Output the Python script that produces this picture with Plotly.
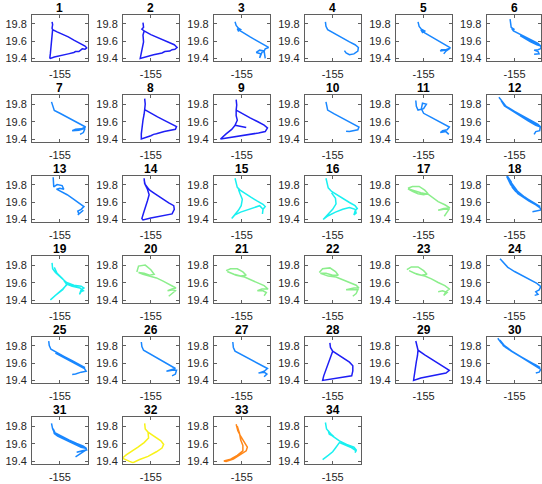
import plotly.graph_objects as go

# Flight tracks (lon, lat) east of Hilo, one per sortie
track_01 = [(-155.084, 19.825), (-155.078, 19.793), (-155.084, 19.751), (-155.078, 19.735), (-155.03, 19.709),
            (-154.97, 19.682), (-154.91, 19.650), (-154.85, 19.613), (-154.796, 19.581), (-154.76, 19.560),
            (-154.73, 19.544), (-154.712, 19.523), (-154.73, 19.507), (-154.76, 19.512), (-154.778, 19.497),
            (-154.796, 19.481), (-154.832, 19.481), (-154.85, 19.470), (-154.91, 19.454), (-154.988, 19.438),
            (-155.06, 19.417), (-155.102, 19.401), (-155.108, 19.406), (-155.102, 19.459), (-155.096, 19.539),
            (-155.09, 19.618), (-155.084, 19.687), (-155.078, 19.735)]
track_02 = [(-155.084, 19.815), (-155.078, 19.762), (-155.096, 19.740), (-155.072, 19.719), (-155.0, 19.677),
            (-154.91, 19.634), (-154.82, 19.592), (-154.748, 19.560), (-154.718, 19.528), (-154.742, 19.507),
            (-154.772, 19.502), (-154.796, 19.486), (-154.85, 19.481), (-154.88, 19.465), (-154.97, 19.444),
            (-155.06, 19.417), (-155.114, 19.401), (-155.108, 19.433), (-155.096, 19.512), (-155.078, 19.592),
            (-155.084, 19.671), (-155.072, 19.719)]
track_03 = [(-155.072, 19.825), (-155.06, 19.783), (-155.036, 19.751), (-155.012, 19.735), (-155.036, 19.719),
            (-155.048, 19.746), (-155.024, 19.725), (-154.97, 19.687), (-154.91, 19.650), (-154.85, 19.613),
            (-154.79, 19.576), (-154.742, 19.550), (-154.712, 19.528), (-154.748, 19.512), (-154.76, 19.486),
            (-154.808, 19.497), (-154.844, 19.470), (-154.796, 19.454), (-154.808, 19.406), (-154.784, 19.470),
            (-154.76, 19.486), (-154.748, 19.401)]
track_04 = [(-155.078, 19.825), (-155.072, 19.772), (-155.054, 19.735), (-155.012, 19.709), (-154.952, 19.666),
            (-154.892, 19.629), (-154.82, 19.592), (-154.76, 19.560), (-154.724, 19.528), (-154.73, 19.486),
            (-154.772, 19.454), (-154.82, 19.444), (-154.856, 19.465), (-154.874, 19.491)]
track_05 = [(-155.06, 19.825), (-155.048, 19.772), (-155.024, 19.740), (-154.988, 19.719), (-155.012, 19.703),
            (-155.03, 19.735), (-154.988, 19.698), (-154.928, 19.661), (-154.868, 19.624), (-154.808, 19.587),
            (-154.748, 19.555), (-154.712, 19.523), (-154.76, 19.502), (-154.808, 19.502), (-154.82, 19.486),
            (-154.76, 19.497), (-154.718, 19.518), (-154.76, 19.486), (-154.784, 19.454)]
track_06 = [(-155.048, 19.857), (-155.042, 19.804), (-155.036, 19.762), (-155.0, 19.735), (-155.03, 19.746),
            (-155.012, 19.719), (-154.952, 19.687), (-154.88, 19.645), (-154.808, 19.608), (-154.748, 19.576),
            (-154.718, 19.544), (-154.76, 19.560), (-154.832, 19.597), (-154.904, 19.640), (-154.94, 19.666),
            (-154.868, 19.629), (-154.796, 19.592), (-154.724, 19.550), (-154.712, 19.518), (-154.748, 19.502),
            (-154.79, 19.497), (-154.748, 19.481), (-154.736, 19.454), (-154.79, 19.449)]
track_07 = [(-155.09, 19.830), (-155.078, 19.778), (-155.06, 19.730), (-155.0, 19.698), (-154.928, 19.656),
            (-154.85, 19.613), (-154.772, 19.571), (-154.724, 19.539), (-154.772, 19.518), (-154.832, 19.512),
            (-154.868, 19.497), (-154.796, 19.502), (-154.73, 19.523), (-154.748, 19.475), (-154.784, 19.454)]
track_08 = [(-155.066, 19.868), (-155.06, 19.804), (-155.066, 19.740), (-155.0, 19.698), (-154.928, 19.656),
            (-154.85, 19.613), (-154.772, 19.576), (-154.724, 19.544), (-154.736, 19.512), (-154.784, 19.502),
            (-154.856, 19.486), (-154.94, 19.460), (-154.97, 19.454), (-155.0, 19.438), (-155.06, 19.417),
            (-155.102, 19.401), (-155.102, 19.460), (-155.096, 19.539), (-155.084, 19.618), (-155.072, 19.687),
            (-155.066, 19.740)]
track_09 = [(-155.06, 19.857), (-155.054, 19.793), (-155.06, 19.735), (-154.988, 19.687), (-154.91, 19.645),
            (-154.832, 19.603), (-154.76, 19.560), (-154.724, 19.528), (-154.748, 19.486), (-154.82, 19.470),
            (-154.91, 19.454), (-155.0, 19.444), (-155.09, 19.428), (-155.18, 19.412), (-155.228, 19.401),
            (-155.168, 19.460), (-155.108, 19.512), (-155.072, 19.560), (-155.012, 19.544), (-154.952, 19.534),
            (-155.012, 19.544), (-155.072, 19.560), (-155.048, 19.618), (-155.06, 19.671), (-155.06, 19.735)]
track_10 = [(-155.072, 19.830), (-155.066, 19.778), (-155.054, 19.735), (-154.988, 19.693), (-154.91, 19.650),
            (-154.832, 19.608), (-154.76, 19.571), (-154.718, 19.539), (-154.73, 19.507), (-154.772, 19.497),
            (-154.82, 19.486), (-154.856, 19.491)]
track_11 = [(-155.084, 19.846), (-155.078, 19.778), (-155.06, 19.735), (-155.0, 19.751), (-154.97, 19.804),
            (-155.012, 19.815), (-155.024, 19.751), (-155.0, 19.698), (-154.928, 19.656), (-154.85, 19.613),
            (-154.772, 19.571), (-154.724, 19.539), (-154.748, 19.507), (-154.796, 19.497), (-154.82, 19.475),
            (-154.76, 19.486), (-154.73, 19.454)]
track_12 = [(-155.168, 19.884), (-155.132, 19.830), (-155.09, 19.778), (-155.0, 19.719), (-154.91, 19.666),
            (-154.82, 19.613), (-154.748, 19.571), (-154.718, 19.539), (-154.772, 19.560), (-154.85, 19.608),
            (-154.94, 19.666), (-155.03, 19.730), (-155.108, 19.783), (-155.144, 19.846), (-155.12, 19.804),
            (-155.06, 19.751), (-154.97, 19.693), (-154.88, 19.634), (-154.79, 19.581), (-154.724, 19.539),
            (-154.73, 19.497), (-154.772, 19.486), (-154.79, 19.454)]
track_13 = [(-155.072, 19.889), (-155.072, 19.830), (-155.066, 19.778), (-155.03, 19.804), (-154.976, 19.793),
            (-154.958, 19.751), (-155.0, 19.762), (-155.036, 19.751), (-154.988, 19.725), (-154.922, 19.687),
            (-154.85, 19.634), (-154.79, 19.592), (-154.742, 19.550), (-154.772, 19.518), (-154.808, 19.497),
            (-154.796, 19.465), (-154.772, 19.486), (-154.748, 19.507), (-154.784, 19.475), (-154.808, 19.454)]
track_14 = [(-155.072, 19.878), (-155.066, 19.815), (-155.036, 19.772), (-155.012, 19.740), (-154.97, 19.709),
            (-154.928, 19.677), (-154.868, 19.634), (-154.808, 19.592), (-154.754, 19.560), (-154.748, 19.518),
            (-154.772, 19.465), (-154.832, 19.454), (-154.904, 19.438), (-155.0, 19.417), (-155.084, 19.396),
            (-155.096, 19.412), (-155.078, 19.475), (-155.06, 19.550), (-155.036, 19.618), (-155.018, 19.687),
            (-155.036, 19.751), (-155.06, 19.804), (-155.072, 19.857)]
track_15 = [(-155.072, 19.878), (-155.06, 19.815), (-155.048, 19.772), (-155.018, 19.740), (-154.964, 19.698),
            (-154.898, 19.656), (-154.832, 19.613), (-154.772, 19.576), (-154.748, 19.550), (-154.772, 19.518),
            (-154.778, 19.465), (-154.772, 19.518), (-154.808, 19.560), (-154.868, 19.539), (-154.94, 19.512),
            (-155.012, 19.486), (-155.072, 19.454), (-155.108, 19.412), (-155.072, 19.465), (-155.036, 19.507),
            (-155.006, 19.560), (-154.994, 19.634), (-155.018, 19.698), (-155.036, 19.751)]
track_16 = [(-155.072, 19.878), (-155.06, 19.815), (-155.048, 19.767), (-155.012, 19.725), (-154.952, 19.682),
            (-154.88, 19.634), (-154.82, 19.597), (-154.76, 19.560), (-154.736, 19.528), (-154.76, 19.497),
            (-154.772, 19.454), (-154.748, 19.475), (-154.76, 19.518), (-154.82, 19.539), (-154.892, 19.518),
            (-154.97, 19.486), (-155.048, 19.444), (-155.102, 19.401), (-155.06, 19.454), (-155.0, 19.518),
            (-154.964, 19.581), (-154.97, 19.645), (-155.012, 19.709)]
track_17 = [(-155.168, 19.762), (-155.12, 19.783), (-155.048, 19.783), (-154.988, 19.740), (-154.952, 19.698),
            (-155.0, 19.687), (-155.06, 19.698), (-155.12, 19.725), (-155.168, 19.756), (-155.108, 19.735),
            (-155.03, 19.709), (-154.952, 19.693), (-154.904, 19.656), (-154.844, 19.608), (-154.772, 19.571),
            (-154.718, 19.534), (-154.784, 19.528), (-154.844, 19.507), (-154.784, 19.518), (-154.724, 19.523),
            (-154.748, 19.486), (-154.778, 19.438)]
track_18 = [(-155.108, 19.952), (-155.072, 19.889), (-155.036, 19.836), (-155.024, 19.772), (-154.988, 19.725),
            (-154.928, 19.682), (-154.856, 19.634), (-154.784, 19.587), (-154.724, 19.550), (-154.772, 19.571),
            (-154.844, 19.613), (-154.916, 19.666), (-154.964, 19.698), (-155.0, 19.751), (-155.042, 19.804),
            (-155.084, 19.899), (-155.048, 19.846), (-155.012, 19.793), (-154.97, 19.730), (-154.892, 19.661),
            (-154.808, 19.603), (-154.73, 19.539), (-154.712, 19.512), (-154.76, 19.497), (-154.808, 19.491)]
track_19 = [(-155.084, 19.830), (-155.078, 19.762), (-155.048, 19.719), (-154.988, 19.656), (-154.928, 19.603),
            (-154.85, 19.571), (-154.772, 19.560), (-154.742, 19.539), (-154.772, 19.518), (-154.79, 19.465),
            (-154.772, 19.497), (-154.748, 19.507), (-154.784, 19.539), (-154.868, 19.560), (-154.922, 19.581),
            (-154.97, 19.528), (-155.03, 19.465), (-155.102, 19.401), (-155.048, 19.454), (-154.97, 19.518),
            (-154.928, 19.581), (-154.97, 19.645), (-155.03, 19.709), (-155.06, 19.778)]
track_20 = [(-155.15, 19.725), (-155.132, 19.793), (-155.06, 19.804), (-155.0, 19.751), (-154.964, 19.698),
            (-155.012, 19.687), (-155.072, 19.709), (-155.132, 19.719), (-155.084, 19.698), (-155.0, 19.677),
            (-154.94, 19.656), (-154.868, 19.618), (-154.79, 19.576), (-154.73, 19.539), (-154.772, 19.528),
            (-154.82, 19.507), (-154.76, 19.518), (-154.736, 19.507), (-154.772, 19.475), (-154.808, 19.444)]
track_21 = [(-155.168, 19.740), (-155.12, 19.762), (-155.048, 19.762), (-154.988, 19.725), (-154.952, 19.687),
            (-155.012, 19.677), (-155.084, 19.698), (-155.156, 19.730), (-155.06, 19.687), (-154.97, 19.666),
            (-154.904, 19.634), (-154.832, 19.603), (-154.76, 19.566), (-154.718, 19.528), (-154.784, 19.528),
            (-154.832, 19.507), (-154.772, 19.507), (-154.736, 19.486), (-154.76, 19.449)]
track_22 = [(-155.144, 19.719), (-155.108, 19.762), (-155.03, 19.772), (-154.97, 19.730), (-154.94, 19.687),
            (-155.0, 19.687), (-155.072, 19.709), (-155.132, 19.709), (-155.048, 19.677), (-154.964, 19.666),
            (-154.892, 19.634), (-154.82, 19.603), (-154.748, 19.571), (-154.718, 19.539), (-154.772, 19.539),
            (-154.856, 19.518), (-154.784, 19.518), (-154.73, 19.518), (-154.748, 19.475), (-154.784, 19.444)]
track_23 = [(-155.18, 19.751), (-155.132, 19.783), (-155.06, 19.783), (-155.0, 19.740), (-154.964, 19.698),
            (-155.024, 19.687), (-155.096, 19.709), (-155.156, 19.740), (-155.072, 19.698), (-154.988, 19.677),
            (-154.916, 19.645), (-154.844, 19.603), (-154.772, 19.566), (-154.724, 19.528), (-154.76, 19.497),
            (-154.784, 19.454), (-154.748, 19.486), (-154.796, 19.507), (-154.844, 19.497)]
track_24 = [(-155.156, 19.878), (-155.12, 19.830), (-155.072, 19.778), (-155.0, 19.730), (-154.916, 19.682),
            (-154.832, 19.634), (-154.76, 19.592), (-154.718, 19.555), (-154.736, 19.518), (-154.772, 19.497),
            (-154.748, 19.465), (-154.784, 19.454)]
track_25 = [(-155.12, 19.857), (-155.114, 19.804), (-155.096, 19.762), (-155.03, 19.719), (-154.952, 19.677),
            (-154.868, 19.629), (-154.79, 19.587), (-154.73, 19.550), (-154.808, 19.581), (-154.892, 19.629),
            (-154.97, 19.677), (-155.048, 19.719), (-155.0, 19.687), (-154.91, 19.634), (-154.82, 19.587),
            (-154.736, 19.539), (-154.718, 19.507), (-154.772, 19.497), (-154.832, 19.475), (-154.868, 19.470)]
track_26 = [(-155.102, 19.846), (-155.096, 19.793), (-155.078, 19.751), (-155.012, 19.709), (-154.94, 19.666),
            (-154.868, 19.624), (-154.796, 19.581), (-154.736, 19.539), (-154.772, 19.528), (-154.832, 19.507),
            (-154.772, 19.518), (-154.724, 19.518), (-154.736, 19.475), (-154.772, 19.454)]
track_27 = [(-155.096, 19.846), (-155.09, 19.783), (-155.072, 19.740), (-155.0, 19.698), (-154.928, 19.656),
            (-154.85, 19.613), (-154.778, 19.571), (-154.724, 19.539), (-154.76, 19.507), (-154.82, 19.486),
            (-154.76, 19.497), (-154.73, 19.475), (-154.76, 19.444)]
track_28 = [(-155.03, 19.836), (-155.024, 19.783), (-155.0, 19.740), (-154.94, 19.698), (-154.88, 19.656),
            (-154.82, 19.613), (-154.784, 19.571), (-154.784, 19.512), (-154.796, 19.454), (-154.856, 19.444),
            (-154.94, 19.433), (-155.03, 19.417), (-155.108, 19.401), (-155.096, 19.454), (-155.072, 19.528),
            (-155.048, 19.603), (-155.024, 19.671), (-155.0, 19.740)]
track_29 = [(-155.084, 19.857), (-155.072, 19.793), (-155.06, 19.751), (-154.988, 19.698), (-154.91, 19.645),
            (-154.832, 19.592), (-154.76, 19.550), (-154.724, 19.518), (-154.76, 19.486), (-154.844, 19.470),
            (-154.94, 19.449), (-155.03, 19.428), (-155.108, 19.401), (-155.102, 19.460), (-155.09, 19.539),
            (-155.078, 19.618), (-155.066, 19.687), (-155.06, 19.751)]
track_30 = [(-155.18, 19.889), (-155.144, 19.836), (-155.096, 19.783), (-155.012, 19.725), (-154.928, 19.671),
            (-154.844, 19.618), (-154.772, 19.581), (-154.724, 19.550), (-154.784, 19.581), (-154.868, 19.634),
            (-154.952, 19.687), (-155.036, 19.740), (-155.12, 19.804), (-155.156, 19.868), (-155.108, 19.804),
            (-155.024, 19.735), (-154.94, 19.677), (-154.856, 19.624), (-154.772, 19.571), (-154.718, 19.528),
            (-154.736, 19.497), (-154.772, 19.486)]
track_31 = [(-155.09, 19.836), (-155.078, 19.772), (-155.06, 19.730), (-154.988, 19.687), (-154.904, 19.645),
            (-154.82, 19.603), (-154.748, 19.571), (-154.712, 19.544), (-154.772, 19.560), (-154.856, 19.603),
            (-154.94, 19.645), (-155.024, 19.687), (-155.06, 19.719), (-155.072, 19.772), (-155.048, 19.719),
            (-154.964, 19.671), (-154.88, 19.629), (-154.796, 19.587), (-154.724, 19.550), (-154.712, 19.528),
            (-154.772, 19.518), (-154.82, 19.502), (-154.76, 19.518), (-154.718, 19.528), (-154.772, 19.486),
            (-154.832, 19.449)]
track_32 = [(-155.066, 19.836), (-155.06, 19.772), (-155.03, 19.735), (-154.97, 19.687), (-154.892, 19.634),
            (-154.862, 19.592), (-154.88, 19.550), (-154.94, 19.507), (-155.03, 19.454), (-155.12, 19.417),
            (-155.192, 19.380), (-155.228, 19.396), (-155.282, 19.422), (-155.306, 19.433), (-155.264, 19.470),
            (-155.21, 19.507), (-155.138, 19.560), (-155.072, 19.613), (-155.024, 19.666), (-155.03, 19.735)]
track_33 = [(-155.06, 19.825), (-155.042, 19.751), (-155.012, 19.687), (-154.97, 19.613), (-154.94, 19.560),
            (-154.952, 19.518), (-155.012, 19.475), (-155.09, 19.422), (-155.168, 19.396), (-155.192, 19.401),
            (-155.12, 19.422), (-155.048, 19.465), (-154.988, 19.518), (-154.988, 19.581), (-155.012, 19.645),
            (-155.024, 19.719), (-155.048, 19.804)]
track_34 = [(-155.078, 19.846), (-155.066, 19.772), (-155.024, 19.719), (-154.988, 19.682), (-155.036, 19.709),
            (-155.048, 19.751), (-155.0, 19.687), (-154.928, 19.634), (-154.85, 19.592), (-154.772, 19.560),
            (-154.748, 19.528), (-154.76, 19.497), (-154.748, 19.518), (-154.808, 19.560), (-154.928, 19.613),
            (-154.964, 19.560), (-155.0, 19.507), (-155.048, 19.465), (-155.108, 19.417)]

tracks = [track_01, track_02, track_03, track_04, track_05, track_06, track_07, track_08, track_09,
          track_10, track_11, track_12, track_13, track_14, track_15, track_16, track_17, track_18,
          track_19, track_20, track_21, track_22, track_23, track_24, track_25, track_26, track_27,
          track_28, track_29, track_30, track_31, track_32, track_33, track_34]

# colour class of each sortie (jet-like scale)
BLUE, AZURE, CYAN, GREEN, YELLOW, ORANGE = (
    "rgb(30,30,245)", "rgb(25,135,255)", "rgb(25,240,240)",
    "rgb(140,238,140)", "rgb(248,242,25)", "rgb(255,135,25)")
track_colors = [BLUE, BLUE, AZURE, AZURE, AZURE, AZURE,
                AZURE, BLUE, BLUE, AZURE, AZURE, AZURE,
                AZURE, BLUE, CYAN, CYAN, GREEN, AZURE,
                CYAN, GREEN, GREEN, GREEN, GREEN, AZURE,
                AZURE, AZURE, AZURE, BLUE, BLUE, AZURE,
                AZURE, YELLOW, ORANGE, CYAN]

lat_ticks = [19.4, 19.6, 19.8]
lon_ticks = [-155]
LON_RANGE = (-155.3, -154.7)
LAT_RANGE = (19.37, 19.905)

# page geometry (pixels)
W, H = 542, 484
BOX_W, BOX_H = 56, 46.5
COL0, COL_STEP = 32, 91.1
ROW0, ROW_STEP = 15, 81
NCOL = 6

AX_COL = "rgb(95,95,95)"
TXT_COL = "rgb(38,38,38)"
FONT = "Liberation Sans, Arial, sans-serif"

fig = go.Figure()
layout = {}
annotations = []
for i, trk in enumerate(tracks):
    n = i + 1
    sfx = "" if n == 1 else str(n)
    r, c = divmod(i, NCOL)
    left = COL0 + c * COL_STEP
    right = min(left + BOX_W, W)
    top = ROW0 + r * ROW_STEP
    bottom = top + BOX_H
    frac = (right - left) / BOX_W
    x_hi = LON_RANGE[0] + (LON_RANGE[1] - LON_RANGE[0]) * frac

    lon = [p[0] for p in trk]
    lat = [p[1] for p in trk]
    fig.add_trace(go.Scatter(x=lon, y=lat, mode="lines",
                             line=dict(color=track_colors[i], width=1.5),
                             xaxis=f"x{sfx}", yaxis=f"y{sfx}",
                             showlegend=False, hoverinfo="skip"))

    common = dict(showline=True, mirror="ticks", linecolor=AX_COL, linewidth=0.8,
                  ticks="inside", ticklen=3, tickwidth=0.8, tickcolor=AX_COL,
                  showgrid=False, zeroline=False, fixedrange=True,
                  tickfont=dict(family=FONT, size=11, color=TXT_COL))
    layout[f"xaxis{sfx}"] = dict(common, domain=[left / W, right / W],
                                 range=[LON_RANGE[0], x_hi], tickmode="array",
                                 tickvals=lon_ticks, ticktext=[str(v) for v in lon_ticks],
                                 anchor=f"y{sfx}", ticklabelstandoff=3)
    layout[f"yaxis{sfx}"] = dict(common, domain=[1 - bottom / H, 1 - top / H],
                                 range=list(LAT_RANGE), tickmode="array",
                                 tickvals=lat_ticks, ticktext=[f"{v:.1f}" for v in lat_ticks],
                                 anchor=f"x{sfx}", ticklabelstandoff=2)
    annotations.append(dict(text=f"<b>{n}</b>", xref="paper", yref="paper",
                            x=(left + BOX_W / 2) / W, y=1 - top / H,
                            xanchor="center", yanchor="bottom", showarrow=False,
                            borderpad=0, yshift=-1,
                            font=dict(family=FONT, size=12, color="black")))

fig.update_layout(**layout)
fig.update_layout(width=W, height=H, margin=dict(l=0, r=0, t=0, b=0),
                  paper_bgcolor="white", plot_bgcolor="white",
                  annotations=annotations)
fig.write_html("out.html")
